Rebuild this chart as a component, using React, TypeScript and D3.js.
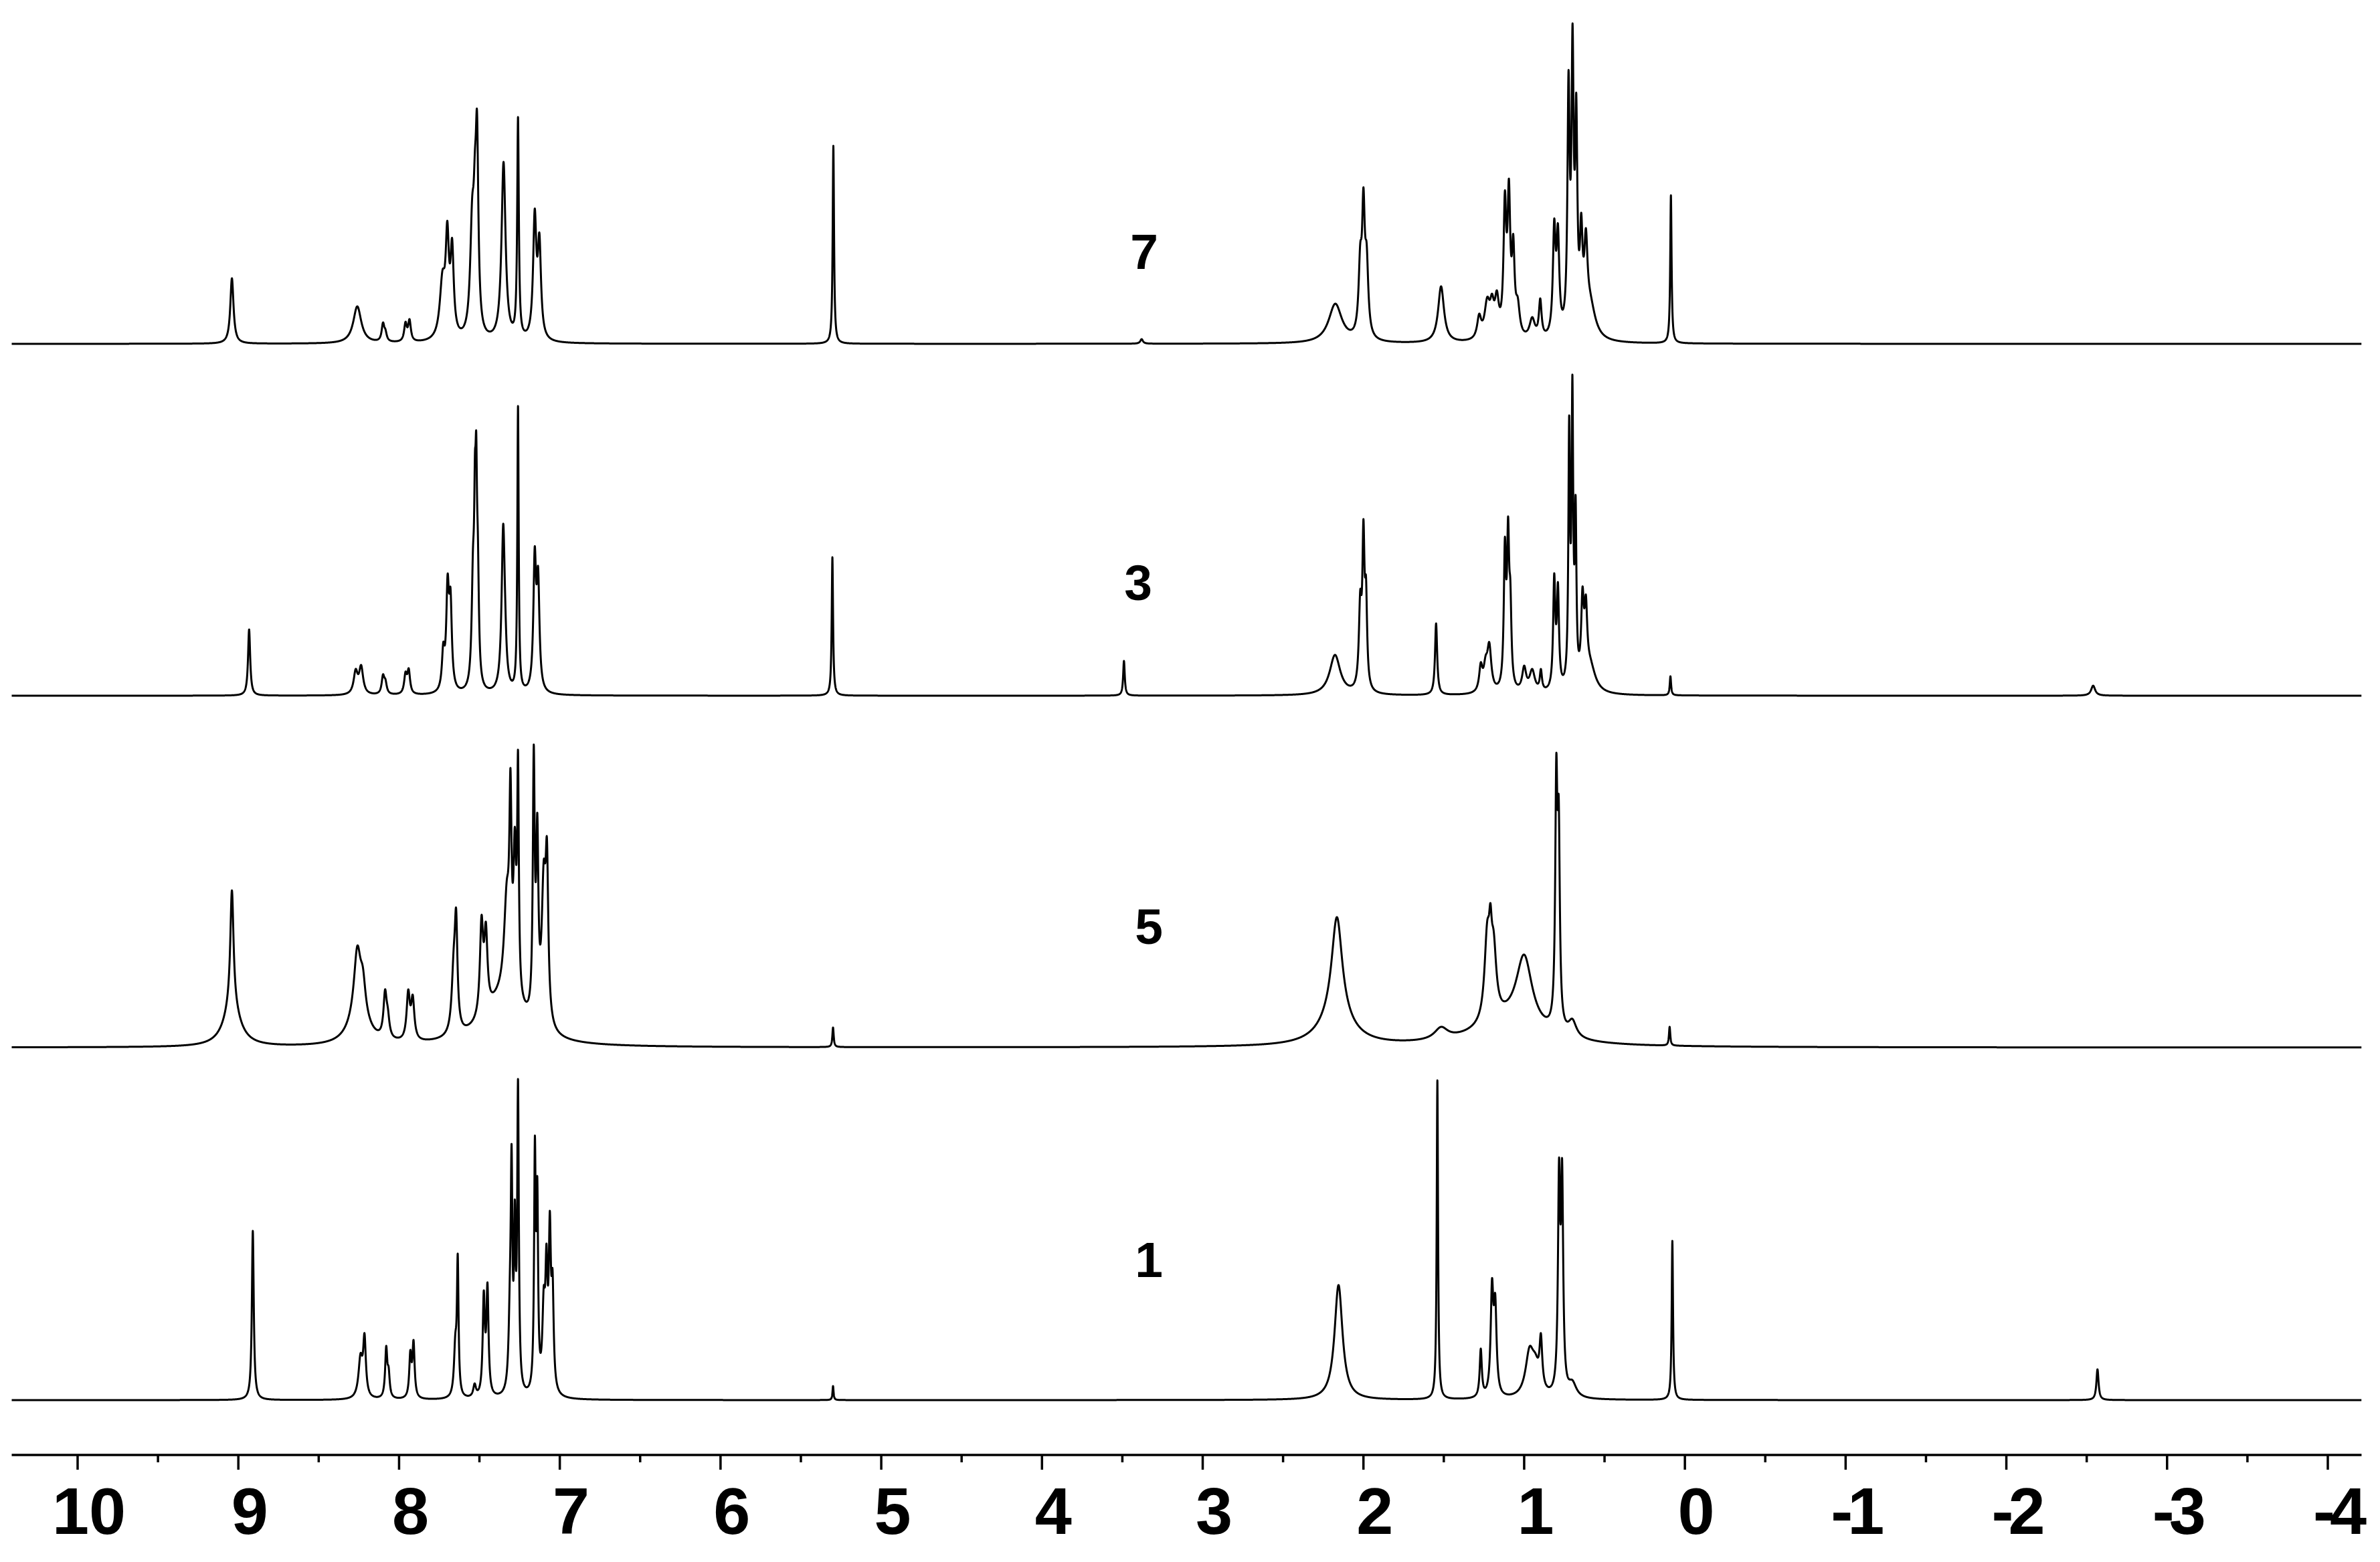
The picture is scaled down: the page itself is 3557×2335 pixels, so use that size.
import React, { useMemo } from 'react';
import * as d3 from 'd3';

// Peaks: [chemical shift (ppm), apparent height, half-width (ppm)]
type Peak = [number, number, number];

const sampleNames = ['7', '3', '5', '1'];

const peaks7: Peak[] = [
  [9.04, 98, 0.012],
  [8.26, 56, 0.03],
  [8.10, 32, 0.01], [8.085, 22, 0.01],
  [7.96, 33, 0.01], [7.935, 37, 0.01],
  [7.73, 110, 0.02], [7.70, 184, 0.012], [7.67, 158, 0.012],
  [7.545, 220, 0.015], [7.528, 290, 0.01], [7.515, 348, 0.01],
  [7.35, 272, 0.015],
  [7.26, 339, 0.006],
  [7.156, 202, 0.012], [7.127, 166, 0.012],
  [5.298, 296, 0.005],
  [3.38, 7, 0.01],
  [2.175, 60, 0.05],
  [2.02, 150, 0.012], [2.0, 234, 0.01], [1.98, 150, 0.012],
  [1.517, 86, 0.022],
  [1.28, 45, 0.015], [1.23, 70, 0.02], [1.2, 75, 0.015], [1.17, 80, 0.015],
  [1.12, 229, 0.01], [1.095, 247, 0.01], [1.068, 164, 0.01], [1.04, 70, 0.015],
  [0.95, 40, 0.02], [0.9, 68, 0.01],
  [0.813, 187, 0.01], [0.79, 180, 0.01],
  [0.724, 409, 0.008], [0.699, 479, 0.008], [0.676, 375, 0.008],
  [0.645, 196, 0.01], [0.616, 173, 0.012], [0.59, 80, 0.04],
  [0.087, 222, 0.005],
];

const peaks3: Peak[] = [
  [8.933, 99, 0.008],
  [8.27, 40, 0.015], [8.236, 46, 0.015],
  [8.10, 32, 0.01], [8.085, 25, 0.01],
  [7.96, 36, 0.01], [7.94, 41, 0.01],
  [7.725, 80, 0.01], [7.698, 182, 0.01], [7.68, 161, 0.01],
  [7.54, 222, 0.01], [7.528, 363, 0.006], [7.52, 395, 0.006], [7.51, 246, 0.008],
  [7.352, 257, 0.012], [7.34, 150, 0.01],
  [7.26, 433, 0.005],
  [7.156, 223, 0.01], [7.135, 193, 0.01],
  [5.304, 207, 0.005],
  [3.49, 52, 0.006],
  [2.177, 61, 0.04],
  [2.02, 158, 0.01], [2.0, 264, 0.008], [1.984, 178, 0.008],
  [1.548, 108, 0.008],
  [1.27, 50, 0.012], [1.24, 60, 0.015], [1.217, 80, 0.015],
  [1.12, 237, 0.008], [1.1, 268, 0.008], [1.086, 173, 0.008],
  [1.0, 45, 0.015], [0.95, 40, 0.02], [0.896, 40, 0.008],
  [0.813, 183, 0.008], [0.79, 170, 0.008],
  [0.72, 419, 0.006], [0.7, 480, 0.006], [0.68, 300, 0.006],
  [0.637, 163, 0.01], [0.616, 151, 0.01], [0.59, 60, 0.04],
  [0.09, 29, 0.005],
  [-2.54, 15, 0.015],
];

const peaks5: Peak[] = [
  [9.04, 235, 0.012],
  [8.26, 152, 0.025], [8.225, 120, 0.02],
  [8.087, 87, 0.012], [8.07, 60, 0.012],
  [7.943, 87, 0.012], [7.915, 79, 0.012],
  [7.66, 150, 0.015], [7.645, 208, 0.01],
  [7.487, 198, 0.012], [7.46, 188, 0.012],
  [7.33, 250, 0.02], [7.307, 418, 0.008], [7.28, 330, 0.01], [7.26, 445, 0.006],
  [7.162, 453, 0.007], [7.14, 351, 0.008],
  [7.1, 280, 0.015], [7.08, 313, 0.01],
  [5.3, 30, 0.005],
  [2.165, 195, 0.04],
  [1.517, 31, 0.05],
  [1.23, 189, 0.02], [1.21, 216, 0.01], [1.19, 175, 0.02],
  [1.0, 139, 0.06],
  [0.8, 439, 0.008], [0.785, 375, 0.008],
  [0.7, 43, 0.03],
  [0.095, 31, 0.005],
];

// broad underlying humps of sample 5: [ppm, amplitude, half-width]
const broad5: Peak[] = [
  [9.04, 60, 0.06],
  [8.25, 45, 0.07],
  [7.35, 70, 0.15],
  [2.17, 40, 0.12],
  [1.1, 35, 0.25],
];

const peaks1: Peak[] = [
  [8.91, 253, 0.007],
  [8.24, 70, 0.015], [8.215, 100, 0.01],
  [8.08, 81, 0.008], [8.065, 50, 0.008],
  [7.93, 75, 0.008], [7.91, 90, 0.008],
  [7.65, 100, 0.01], [7.635, 219, 0.006],
  [7.53, 25, 0.01],
  [7.473, 164, 0.008], [7.45, 176, 0.008],
  [7.31, 200, 0.01], [7.3, 383, 0.006], [7.28, 300, 0.006], [7.26, 480, 0.006],
  [7.155, 395, 0.006], [7.14, 334, 0.006],
  [7.1, 170, 0.01], [7.083, 234, 0.008], [7.062, 283, 0.008], [7.045, 195, 0.008],
  [5.3, 21, 0.004],
  [2.155, 172, 0.03],
  [1.54, 478, 0.005],
  [1.27, 77, 0.008],
  [1.2, 182, 0.01], [1.18, 159, 0.01],
  [0.967, 80, 0.03], [0.93, 70, 0.03], [0.896, 100, 0.01],
  [0.783, 362, 0.008], [0.764, 361, 0.008],
  [0.7, 30, 0.03],
  [0.078, 238, 0.005],
  [-2.567, 46, 0.008],
];

const spectra: Peak[][] = [peaks7, peaks3, peaks5, peaks1];
const broadParts: Peak[][] = [[], [], broad5, []];

const majorTicks = [10, 9, 8, 7, 6, 5, 4, 3, 2, 1, 0, -1, -2, -3, -4];
const minorTicks = [9.5, 8.5, 7.5, 6.5, 5.5, 4.5, 3.5, 2.5, 1.5, 0.5, -0.5, -1.5, -2.5, -3.5];

// ---------------- layout ----------------
const W = 3557;
const H = 2335;
const PPM_LEFT = 10.41;
const PPM_RIGHT = -4.21;
const baselines = [514, 1040, 1566, 2093];
const labelPos = [
  { x: 1710, y: 402 },
  { x: 1701, y: 897 },
  { x: 1717, y: 1411 },
  { x: 1717, y: 1909 },
];
const AXIS_Y = 2175;

const lor = (x: number, c: number, g: number) => 1 / (1 + ((x - c) / g) ** 2);

const sumOf = (x: number, peaks: Peak[], amps: number[]) => {
  let s = 0;
  for (let j = 0; j < peaks.length; j++) s += amps[j] * lor(x, peaks[j][0], peaks[j][2]);
  return s;
};

function amplitudes(peaks: Peak[], broad: Peak[]): number[] {
  const n = peaks.length;
  const broadAmps = broad.map((b) => b[1]);
  const target = peaks.map((p) => Math.max(0, p[1] - sumOf(p[0], broad, broadAmps)));
  const a = target.slice();
  const M: number[][] = peaks.map((pi) => peaks.map((pj) => lor(pi[0], pj[0], pj[2])));
  for (let it = 0; it < 400; it++) {
    for (let i = 0; i < n; i++) {
      let s = 0;
      for (let j = 0; j < n; j++) if (j !== i) s += a[j] * M[i][j];
      a[i] = Math.max(0, target[i] - s);
    }
  }
  return a;
}

function spectrumPoints(peaks: Peak[], broad: Peak[]): [number, number][] {
  const a = amplitudes(peaks, broad);
  const broadAmps = broad.map((b) => b[1]);
  const grid = d3.range(PPM_LEFT, PPM_RIGHT, -0.0008).concat(peaks.map((p) => p[0]));
  grid.sort((u, v) => v - u);
  return grid.map((x) => [x, sumOf(x, peaks, a) + sumOf(x, broad, broadAmps)]);
}

export default function App() {
  const x = d3.scaleLinear().domain([10, -4]).range([116, 3479]);

  const paths = useMemo(() => {
    return spectra.map((peaks, k) => {
      const y = d3.scaleLinear().domain([0, 500]).range([baselines[k], baselines[k] - 500]);
      const line = d3
        .line<[number, number]>()
        .x((d) => x(d[0]))
        .y((d) => y(d[1]));
      return line(spectrumPoints(peaks, broadParts[k])) || '';
    });
  }, []);

  const font = '"Liberation Sans", Arial, Helvetica, sans-serif';

  return (
    <svg
      width={W}
      height={H}
      viewBox={`0 0 ${W} ${H}`}
      style={{ position: 'absolute', left: 0, top: 0, background: '#fff' }}
    >
      <rect x={0} y={0} width={W} height={H} fill="#fff" />
      {paths.map((d, k) => (
        <path key={k} d={d} fill="none" stroke="#000" strokeWidth={3} strokeLinejoin="round" />
      ))}
      {sampleNames.map((s, k) => (
        <text
          key={s}
          x={labelPos[k].x}
          y={labelPos[k].y}
          textAnchor="middle"
          fontFamily={font}
          fontWeight="bold"
          fontSize={75}
        >
          {s}
        </text>
      ))}
      <line x1={x(PPM_LEFT)} x2={x(PPM_RIGHT)} y1={AXIS_Y} y2={AXIS_Y} stroke="#000" strokeWidth={3.5} />
      {majorTicks.map((t) => (
        <line key={'M' + t} x1={x(t)} x2={x(t)} y1={AXIS_Y} y2={AXIS_Y + 22} stroke="#000" strokeWidth={3.5} />
      ))}
      {minorTicks.map((t) => (
        <line key={'m' + t} x1={x(t)} x2={x(t)} y1={AXIS_Y} y2={AXIS_Y + 11} stroke="#000" strokeWidth={3.5} />
      ))}
      {majorTicks.map((t) => (
        <text
          key={'L' + t}
          x={t < 0 ? x(t) + 14 : x(t) + 17}
          y={2293}
          textAnchor="middle"
          fontFamily={font}
          fontWeight="bold"
          fontSize={99}
          letterSpacing={t < 0 ? -8 : 0}
        >
          {String(t)}
        </text>
      ))}
    </svg>
  );
}
